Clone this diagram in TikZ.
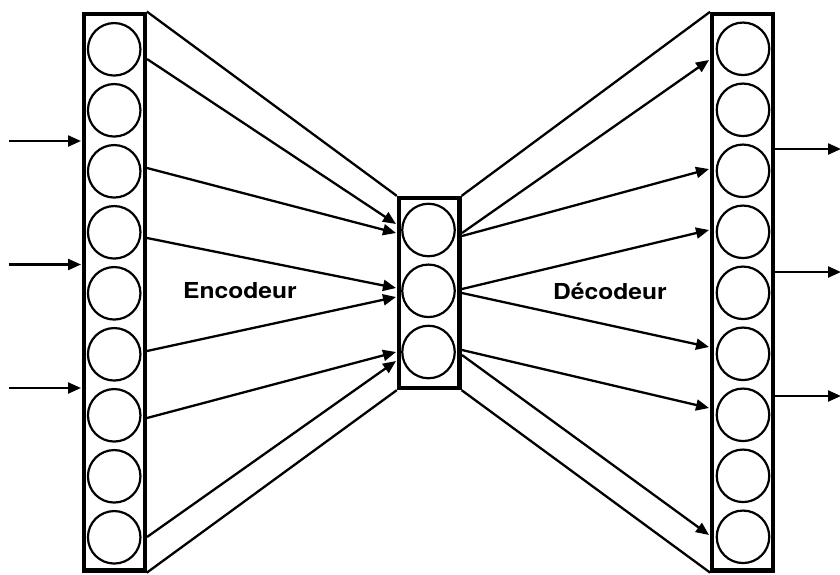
\documentclass[tikz,border=0pt]{standalone}
\usepackage{fontspec}
\setmainfont{TeX Gyre Heros}
\usetikzlibrary{arrows.meta}
\begin{document}
\begin{tikzpicture}[x=1pt,y=-1pt,
  box/.style={draw, line width=4.3pt, minimum width=60.5pt, inner sep=0pt},
  neuron/.style={draw, circle, line width=2.2pt, minimum size=52.5pt, inner sep=0pt},
  link/.style={line width=2.3pt},
  arr/.style={link, -{Triangle[length=13pt,width=11pt]}},
  lbl/.style={font=\fontsize{22}{22}\selectfont\bfseries, anchor=base, inner sep=0pt}]
\useasboundingbox (0,0) rectangle (840,574);

% boxes
\node[box, minimum height=556.8pt] (Lbox) at (114.4,292.1) {};
\node[box, minimum height=190pt] (Mbox) at (429.2,293) {};
\node[box, minimum height=556.5pt] (Rbox) at (742.5,292.2) {};

% neurons
\foreach \i in {1,...,9} {
  \node[neuron] (L\i) at (114.2,{49.3+61*(\i-1)}) {};
  \node[neuron] (R\i) at (743,{48.8+61*(\i-1)}) {};
}
\foreach \i/\y in {1/230,2/290.8,3/352} {
  \node[neuron] (M\i) at (428.5,\y) {};
}

% attachment points
\coordinate (la1) at (147,59);
\coordinate (la2) at (147,168);
\coordinate (la3) at (147,238);
\coordinate (la4) at (147,351);
\coordinate (la5) at (147,418);
\coordinate (la6) at (147,537);
\coordinate (ma1) at (396,224);
\coordinate (ma2) at (396,233);
\coordinate (ma3) at (396,288);
\coordinate (ma4) at (396,297);
\coordinate (ma5) at (396,352);
\coordinate (ma6) at (396,361);
\coordinate (mb1) at (462,233);
\coordinate (mb2) at (462,236);
\coordinate (mb3) at (462,289);
\coordinate (mb4) at (462,293);
\coordinate (mb5) at (462,350);
\coordinate (mb6) at (462,355);
\coordinate (rb1) at (709,60);
\coordinate (rb2) at (709,169);
\coordinate (rb3) at (709,230);
\coordinate (rb4) at (709,347);
\coordinate (rb5) at (709,408);
\coordinate (rb6) at (709,535);

% inputs / outputs
\coordinate (in1) at (9,141);
\coordinate (in2) at (9,264.5);
\coordinate (in3) at (9,388);
\coordinate (li1) at (81,141);
\coordinate (li2) at (81,264.5);
\coordinate (li3) at (81,388);
\coordinate (ro1) at (775,149);
\coordinate (ro2) at (775,272);
\coordinate (ro3) at (775,396);
\coordinate (out1) at (841,149);
\coordinate (out2) at (841,272);
\coordinate (out3) at (841,396);

% encoder links
\draw[link] (Lbox.north east) -- (Mbox.north west);
\draw[link] (Lbox.south east) -- (Mbox.south west);
\foreach \i in {1,...,6} { \draw[arr] (la\i) -- (ma\i); }

% decoder links
\draw[link] (Mbox.north east) -- (Rbox.north west);
\draw[link] (Mbox.south east) -- (Rbox.south west);
\foreach \i in {1,...,6} { \draw[arr] (mb\i) -- (rb\i); }

% inputs and outputs
\foreach \i in {1,2,3} {
  \draw[arr] (in\i) -- (li\i);
  \draw[arr] (ro\i) -- (out\i);
}

% labels
\node[lbl] (enc) at (240,298) {\scalebox{1.12}[1]{Encodeur}};
\node[lbl] (dec) at (610,299) {\scalebox{1.12}[1]{Décodeur}};
\end{tikzpicture}
\end{document}
